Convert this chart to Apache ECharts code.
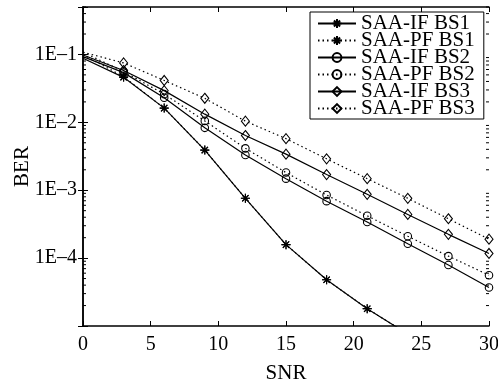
<!DOCTYPE html>
<html>
<head>
<meta charset="utf-8">
<script src="https://cdn.jsdelivr.net/npm/echarts@6/dist/echarts.min.js"></script>
<style>
  html, body { margin: 0; padding: 0; background: #fff; }
  #chart { width: 498px; height: 386px; }
</style>
</head>
<body>
<div id="chart"></div>
<script>
// SNR points (markers every 3 dB, none at 0)
const snr = [0, 3, 6, 9, 12, 15, 18, 21, 24, 27, 30]

// BER
const ifBs1 = [0.088, 0.046, 0.0162, 0.0039, 0.00076, 0.000158, 0.000048, 0.000018, 0.0000076]
const pfBs1 = [0.1, 0.047, 0.0162, 0.0039, 0.00076, 0.000158, 0.000048, 0.000018, 0.0000076]
const ifBs2 = [0.093, 0.054, 0.023, 0.0083, 0.0033, 0.00148, 0.00069, 0.00034, 0.000163, 0.000079, 0.000037]
const pfBs2 = [0.108, 0.056, 0.026, 0.0105, 0.00414, 0.00182, 0.00085, 0.00042, 0.00021, 0.000107, 0.000056]
const ifBs3 = [0.098, 0.058, 0.0293, 0.0132, 0.0064, 0.0034, 0.0017, 0.00087, 0.00044, 0.000224, 0.000117]
const pfBs3 = [0.108, 0.075, 0.0414, 0.0226, 0.0104, 0.00575, 0.0029, 0.00148, 0.00076, 0.00038, 0.00019]

const yLabels = { '0.1': '1E\u20131', '0.01': '1E\u20132', '0.001': '1E\u20133', '0.0001': '1E\u20134' }
const minorMantissas = [2, 3, 4, 5, 6, 7, 8, 9]
const decades = [1e-5, 1e-4, 1e-3, 1e-2, 1e-1]

const starPath = 'path://M0 5L10 5M5 0L5 10M1.5 1.5L8.5 8.5M1.5 8.5L8.5 1.5'
const font = 'Liberation Serif'

let minorTicks = []
decades.forEach(function (d) {
  minorMantissas.forEach(function (m) {
    let v = d * m
    if (v <= 0.5) minorTicks.push([0, v])
  })
})

function toData (vals) {
  return vals.map(function (v, i) {
    if (i === 0) return { value: [snr[i], v], symbol: 'none' }
    return [snr[i], v]
  })
}

function makeSeries (name, vals, symbol, size, dotted) {
  return {
    name: name,
    type: 'line',
    data: toData(vals),
    symbol: symbol,
    symbolSize: size,
    showAllSymbol: true,
    clip: true,
    lineStyle: { color: '#000', width: 1.2, type: dotted ? [1.5, 3] : 'solid' },
    itemStyle: { color: 'rgba(0,0,0,0)', borderColor: '#000', borderWidth: 1.1 },
    emphasis: { disabled: true }
  }
}

let myChart = echarts.init(document.getElementById('chart'))
let option = {
  animation: false,
  backgroundColor: '#fff',
  grid: { left: 83, right: 9, top: 7, bottom: 60, outerBoundsMode: 'none' },
  legend: {
    orient: 'vertical',
    left: 310,
    top: 12,
    itemGap: -4,
    itemWidth: 38,
    itemHeight: 11,
    padding: [1, 9, 0, 7],
    backgroundColor: '#fff',
    borderColor: '#000',
    borderWidth: 1,
    selectedMode: false,
    textStyle: { fontFamily: font, fontSize: 21, color: '#000' },
    data: ['SAA-IF BS1', 'SAA-PF BS1', 'SAA-IF BS2', 'SAA-PF BS2', 'SAA-IF BS3', 'SAA-PF BS3']
  },
  xAxis: [
    {
      type: 'value',
      min: 0,
      max: 30,
      interval: 5,
      name: 'SNR',
      nameLocation: 'middle',
      nameGap: 37,
      nameMoveOverlap: false,
      nameTextStyle: { fontFamily: font, fontSize: 21, color: '#000' },
      axisLine: { lineStyle: { color: '#000', width: 1.5 } },
      axisTick: { inside: true, length: 5, lineStyle: { color: '#000', width: 1 } },
      axisLabel: { fontFamily: font, fontSize: 20, color: '#000', margin: 9 },
      splitLine: { show: false }
    },
    {
      type: 'value',
      position: 'top',
      min: 0,
      max: 30,
      interval: 5,
      axisLine: { lineStyle: { color: '#000', width: 1.5 } },
      axisTick: { inside: true, length: 5, lineStyle: { color: '#000', width: 1 } },
      axisLabel: { show: false },
      splitLine: { show: false }
    }
  ],
  yAxis: [
    {
      type: 'log',
      logBase: 10,
      min: 1e-5,
      max: 0.5,
      name: 'BER',
      nameLocation: 'middle',
      nameGap: 50,
      nameMoveOverlap: false,
      nameTextStyle: { fontFamily: font, fontSize: 21, color: '#000' },
      axisLine: { show: true, lineStyle: { color: '#000', width: 1.5 } },
      axisTick: { inside: true, length: 5, lineStyle: { color: '#000', width: 1 } },
      axisLabel: {
        fontFamily: font,
        fontSize: 20,
        color: '#000',
        margin: 6,
        formatter: function (v) {
          return yLabels[String(Number(v.toPrecision(3)))] || ''
        }
      },
      splitLine: { show: false }
    },
    {
      type: 'log',
      logBase: 10,
      min: 1e-5,
      max: 0.5,
      position: 'right',
      axisLine: { show: true, lineStyle: { color: '#000', width: 1.5 } },
      axisTick: { inside: true, length: 5, lineStyle: { color: '#000', width: 1 } },
      axisLabel: { show: false },
      splitLine: { show: false }
    }
  ],
  series: [
    makeSeries('SAA-IF BS1', ifBs1, starPath, 9, false),
    makeSeries('SAA-PF BS1', pfBs1, starPath, 9, true),
    makeSeries('SAA-IF BS2', ifBs2, 'circle', 7.5, false),
    makeSeries('SAA-PF BS2', pfBs2, 'circle', 7.5, true),
    makeSeries('SAA-IF BS3', ifBs3, 'diamond', [8, 10], false),
    makeSeries('SAA-PF BS3', pfBs3, 'diamond', [8, 10], true),
    {
      // minor log ticks on both side walls
      type: 'custom',
      silent: true,
      clip: false,
      data: minorTicks,
      renderItem: function (params, api) {
        let p = api.coord([0, api.value(1)])
        let q = api.coord([30, api.value(1)])
        return {
          type: 'group',
          children: [
            { type: 'line', shape: { x1: p[0], y1: p[1], x2: p[0] + 3, y2: p[1] }, style: { stroke: '#000', lineWidth: 1 } },
            { type: 'line', shape: { x1: q[0] - 3, y1: q[1], x2: q[0], y2: q[1] }, style: { stroke: '#000', lineWidth: 1 } }
          ]
        }
      }
    }
  ]
}
myChart.setOption(option)
</script>
</body>
</html>
